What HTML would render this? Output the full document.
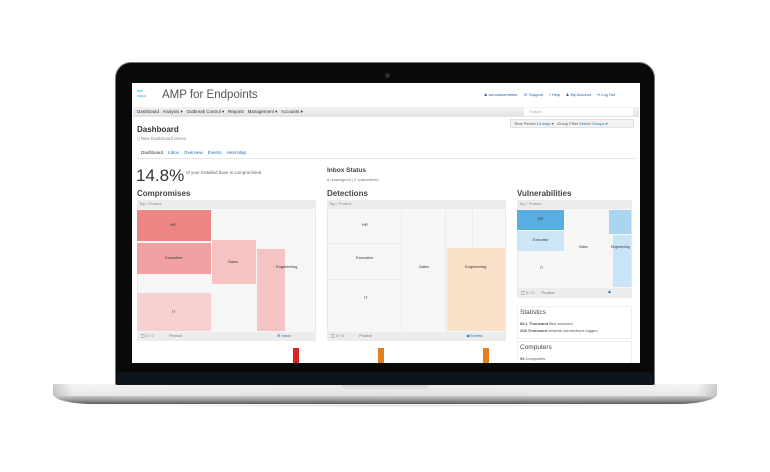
<!DOCTYPE html>
<html><head><meta charset="utf-8"><style>
*{margin:0;padding:0;box-sizing:border-box}
body{width:770px;height:472px;background:#fff;position:relative;overflow:hidden;font-family:"Liberation Sans","DejaVu Sans",sans-serif}
.a{position:absolute}
.t{position:absolute;white-space:nowrap;line-height:1}
</style></head><body>
<!-- base -->
<div class="a" style="left:53px;top:384px;width:664px;height:20px;border-radius:2px 2px 40px 40px/2px 2px 10px 10px;background:linear-gradient(#f4f4f4 0%,#dcdcdc 35%,#c9c9c9 60%,#8d8d8d 85%,#5a5a5a 100%)"></div>
<div class="a" style="left:53px;top:384px;width:664px;height:12px;background:linear-gradient(90deg,#bdbdbd 0%,#f5f5f5 3%,#e9e9e9 50%,#f5f5f5 97%,#bdbdbd 100%);opacity:.7"></div>
<div class="a" style="left:342px;top:384px;width:86px;height:7px;border-radius:0 0 8px 8px;background:linear-gradient(#cfcfcf,#ececec)"></div>
<div class="a" style="left:100px;top:404px;width:570px;height:3px;background:radial-gradient(ellipse at center,rgba(0,0,0,.15),rgba(0,0,0,0) 70%)"></div>
<!-- bezel -->
<div class="a" style="left:115px;top:62px;width:540px;height:323px;border-radius:16px 16px 0 0;background:#0a0a0a;border:1px solid #777"></div>
<div class="a" style="left:117px;top:372px;width:536px;height:13px;background:#0d141b"></div>
<div class="a" style="left:385px;top:73px;width:5px;height:5px;border-radius:50%;background:#2b2f36"></div>
<!-- screen -->
<div class="a" style="left:132px;top:83px;width:508px;height:280px;background:#fff;overflow:hidden">
 <div class="t" style="left:5px;top:6px;font-size:4px;color:#1ba0d7;letter-spacing:0">ılıılı</div>
 <div class="t" style="left:5px;top:11px;font-size:4px;color:#1ba0d7">cisco</div>
 <div class="t" style="left:30px;top:7px;font-size:11.5px;color:#555">AMP for Endpoints</div>
 <div class="t" style="left:352px;top:10px;font-size:4px;color:#1c5fa8">♟ Announcements &nbsp;&nbsp;&nbsp; ☏ Support &nbsp;&nbsp;&nbsp; ? Help &nbsp;&nbsp;&nbsp; ♟ My Account &nbsp;&nbsp;&nbsp; ⇥ Log Out</div>
 <div class="a" style="left:1px;top:24px;width:506px;height:10px;background:linear-gradient(#f3f3f3,#e2e2e2)"></div>
 <div class="t" style="left:5px;top:27px;font-size:4.5px;color:#333">Dashboard &nbsp; Analysis ▾ &nbsp; Outbreak Control ▾ &nbsp; Reports &nbsp; Management ▾ &nbsp; Accounts ▾</div>
 <div class="a" style="left:392px;top:25px;width:109px;height:8px;background:#fff;border-radius:2px"></div>
 <div class="t" style="left:397px;top:27px;font-size:4px;color:#aaa">Search</div>
 <div class="a" style="left:378px;top:36px;width:124px;height:9px;background:#f2f2f2;border:1px solid #e2e2e2"></div>
 <div class="t" style="left:382px;top:39px;font-size:4px;color:#555">Time Period <span style="color:#1c6fb8">14 days ▾</span> &nbsp; Group Filter <span style="color:#1c6fb8">Select Groups ▾</span></div>
 <div class="t" style="left:5px;top:43px;font-size:8px;font-weight:bold;color:#333">Dashboard</div>
 <div class="t" style="left:5px;top:54px;font-size:4.5px;color:#888">▯ New Dashboard Demo</div>
 <div class="t" style="left:9px;top:68px;font-size:4.5px;color:#333">Dashboard &nbsp;&nbsp; <span style="color:#1c6fb8">Inbox &nbsp;&nbsp; Overview &nbsp;&nbsp; Events &nbsp;&nbsp; Heat Map</span></div>
 <div class="a" style="left:5px;top:75px;width:500px;height:1px;background:#e6e6e6"></div>
 <div class="t" style="left:4px;top:84px;font-size:17px;color:#333">14.8%</div>
 <div class="t" style="left:54px;top:88px;font-size:4.5px;color:#666">of your installed base is compromised</div>
 <div class="t" style="left:195px;top:85px;font-size:6.5px;font-weight:bold;color:#444">Inbox Status</div>
 <div class="t" style="left:195px;top:95px;font-size:4px;color:#777">8 unassigned | 2 quarantined</div>
 <div class="t" style="left:5px;top:107px;font-size:8px;font-weight:bold;color:#444">Compromises</div>
 <div class="t" style="left:195px;top:107px;font-size:8px;font-weight:bold;color:#444">Detections</div>
 <div class="t" style="left:385px;top:107px;font-size:8px;font-weight:bold;color:#444">Vulnerabilities</div>
 <!-- compromises -->
 <div class="a" style="left:5px;top:117px;width:179px;height:141px;background:#f6f6f6;border:1px solid #e8e8e8"></div>
 <div class="a" style="left:5px;top:117px;width:179px;height:9px;background:#ececec"></div>
 <div class="t" style="left:7px;top:119px;font-size:4px;color:#888">Top / Protect</div>
 <div class="a" style="left:5px;top:127px;width:74px;height:31px;background:#ee8686"></div>
 <div class="t" style="left:38px;top:140px;font-size:4px;color:#333">HR</div>
 <div class="a" style="left:5px;top:160px;width:74px;height:31px;background:#f1a1a1"></div>
 <div class="t" style="left:33px;top:173px;font-size:4px;color:#333">Executive</div>
 <div class="a" style="left:5px;top:210px;width:74px;height:38px;background:#f8d0d0"></div>
 <div class="t" style="left:40px;top:227px;font-size:4px;color:#333">IT</div>
 <div class="a" style="left:80px;top:157px;width:44px;height:44px;background:#f6c2c2"></div>
 <div class="t" style="left:96px;top:177px;font-size:4px;color:#333">Sales</div>
 <div class="a" style="left:125px;top:166px;width:28px;height:82px;background:#f4c4c4"></div>
 <div class="t" style="left:144px;top:182px;font-size:4px;color:#333">Engineering</div>
 <div class="a" style="left:5px;top:249px;width:179px;height:9px;background:#ececec"></div>
 <div class="t" style="left:9px;top:251px;font-size:4px;color:#777">🖵 0 / 0 &nbsp;&nbsp;&nbsp;&nbsp;&nbsp;&nbsp;&nbsp;&nbsp;&nbsp;&nbsp;&nbsp;&nbsp; Protect</div>
 <div class="t" style="left:145px;top:251px;font-size:4px;color:#1c6fb8">✉ Inbox</div>
 <!-- detections -->
 <div class="a" style="left:195px;top:117px;width:179px;height:141px;background:#f6f6f6;border:1px solid #e8e8e8"></div>
 <div class="a" style="left:195px;top:117px;width:179px;height:9px;background:#ececec"></div>
 <div class="t" style="left:197px;top:119px;font-size:4px;color:#888">Top / Protect</div>
 <div class="a" style="left:269px;top:127px;width:1px;height:121px;background:#ebebeb"></div>
 <div class="a" style="left:195px;top:160px;width:74px;height:1px;background:#ebebeb"></div>
 <div class="a" style="left:195px;top:196px;width:74px;height:1px;background:#ebebeb"></div>
 <div class="a" style="left:313px;top:127px;width:1px;height:121px;background:#ebebeb"></div>
 <div class="a" style="left:340px;top:127px;width:1px;height:40px;background:#ebebeb"></div>
 <div class="t" style="left:230px;top:140px;font-size:4px;color:#333">HR</div>
 <div class="t" style="left:224px;top:173px;font-size:4px;color:#333">Executive</div>
 <div class="t" style="left:232px;top:213px;font-size:4px;color:#333">IT</div>
 <div class="t" style="left:287px;top:182px;font-size:4px;color:#333">Sales</div>
 <div class="a" style="left:315px;top:165px;width:58px;height:83px;background:#fbe1c9"></div>
 <div class="t" style="left:333px;top:182px;font-size:4px;color:#333">Engineering</div>
 <div class="a" style="left:195px;top:249px;width:179px;height:9px;background:#ececec"></div>
 <div class="t" style="left:199px;top:251px;font-size:4px;color:#777">🖵 0 / 0 &nbsp;&nbsp;&nbsp;&nbsp;&nbsp;&nbsp;&nbsp;&nbsp;&nbsp;&nbsp;&nbsp;&nbsp; Protect</div>
 <div class="t" style="left:334px;top:251px;font-size:4px;color:#1c6fb8">◀ Events</div>
 <!-- vulnerabilities -->
 <div class="a" style="left:385px;top:117px;width:115px;height:98px;background:#f6f6f6;border:1px solid #e8e8e8"></div>
 <div class="a" style="left:385px;top:117px;width:115px;height:9px;background:#ececec"></div>
 <div class="t" style="left:387px;top:119px;font-size:4px;color:#888">Top / Protect</div>
 <div class="a" style="left:385px;top:127px;width:47px;height:20px;background:#58ade1"></div>
 <div class="t" style="left:406px;top:135px;font-size:3.5px;color:#333">HR</div>
 <div class="a" style="left:385px;top:148px;width:47px;height:20px;background:#cde6f6"></div>
 <div class="t" style="left:401px;top:156px;font-size:3.5px;color:#333">Executive</div>
 <div class="t" style="left:447px;top:163px;font-size:3.5px;color:#333">Sales</div>
 <div class="t" style="left:408px;top:184px;font-size:3.5px;color:#333">IT</div>
 <div class="a" style="left:477px;top:127px;width:22px;height:24px;background:#a9d5f1"></div>
 <div class="a" style="left:481px;top:152px;width:18px;height:52px;background:#c9e4f6"></div>
 <div class="t" style="left:479px;top:163px;font-size:3.5px;color:#333">Engineering</div>
 <div class="a" style="left:385px;top:205px;width:115px;height:10px;background:#ececec"></div>
 <div class="t" style="left:389px;top:208px;font-size:4px;color:#777">🖵 0 / 0 &nbsp;&nbsp;&nbsp;&nbsp;&nbsp; Protect</div>
 <div class="t" style="left:475px;top:207px;font-size:5px;color:#1c6fb8">▲</div>
 <div class="a" style="left:385px;top:223px;width:115px;height:33px;background:#fff;border:1px solid #eee"></div>
 <div class="t" style="left:388px;top:227px;font-size:6.5px;color:#444">Statistics</div>
 <div class="t" style="left:388px;top:239px;font-size:4px;color:#555"><b>85.1 Thousand</b> files scanned</div>
 <div class="t" style="left:388px;top:246px;font-size:4px;color:#555"><b>208 Thousand</b> network connections logged</div>
 <div class="a" style="left:385px;top:258px;width:115px;height:30px;background:#fff;border:1px solid #eee"></div>
 <div class="t" style="left:388px;top:262px;font-size:6.5px;color:#444">Computers</div>
 <div class="t" style="left:388px;top:274px;font-size:4px;color:#555"><b>94</b> Computers</div>
 <!-- bars -->
 <div class="a" style="left:161px;top:265px;width:6px;height:20px;background:#d92323"></div>
 <div class="a" style="left:246px;top:265px;width:6px;height:20px;background:#e08020"></div>
 <div class="a" style="left:351px;top:265px;width:6px;height:20px;background:#e08020"></div>
</div>
</body></html>
